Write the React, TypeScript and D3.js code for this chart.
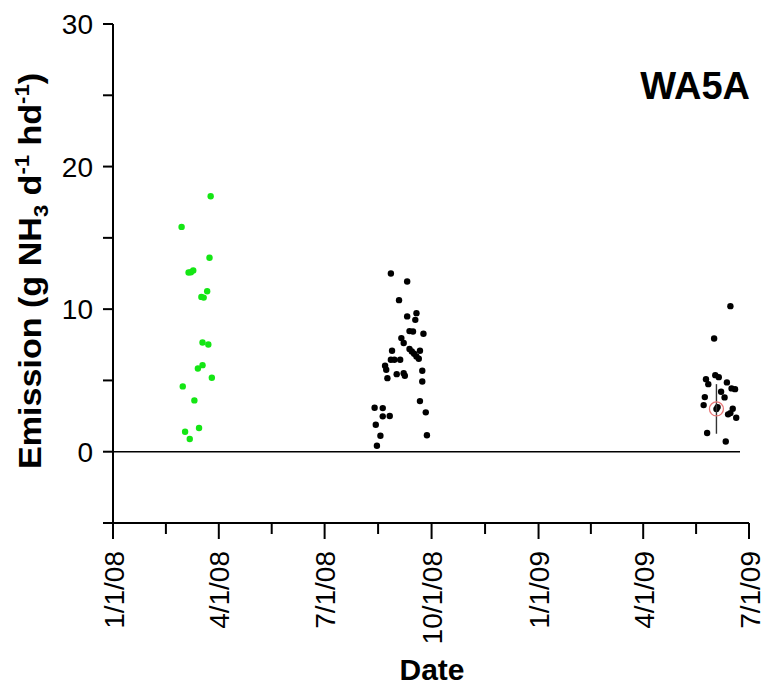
import React from "react";
import * as d3 from "d3";

// Daily NH3 emission per head, three measurement campaigns
const springDates = [
  "2008-03-25", "2008-02-29", "2008-03-24", "2008-03-06", "2008-03-08", "2008-03-10",
  "2008-03-22", "2008-03-17", "2008-03-19", "2008-03-18", "2008-03-23", "2008-03-14",
  "2008-03-18", "2008-03-26", "2008-03-01", "2008-03-11", "2008-03-15", "2008-03-03",
  "2008-03-07",
];
const springValues = [
  17.92, 15.77, 13.6, 12.57, 12.59, 12.71, 11.26, 10.86, 10.81, 7.66, 7.52, 5.84,
  6.07, 5.19, 4.58, 3.6, 1.66, 1.4, 0.89,
];

const fallDates = [
  "2008-08-27", "2008-09-10", "2008-09-03", "2008-09-10", "2008-09-17", "2008-09-18",
  "2008-09-12", "2008-09-15", "2008-09-24", "2008-09-05", "2008-09-07", "2008-09-12",
  "2008-09-14", "2008-09-16", "2008-09-18", "2008-09-21", "2008-08-28", "2008-08-27",
  "2008-08-30", "2008-09-04", "2008-09-20", "2008-08-22", "2008-08-23", "2008-08-24",
  "2008-09-01", "2008-09-07", "2008-09-08", "2008-09-23", "2008-09-23", "2008-09-21",
  "2008-09-26", "2008-09-27", "2008-08-13", "2008-08-20", "2008-08-20", "2008-08-26",
  "2008-08-14", "2008-08-18", "2008-08-15",
];
const fallValues = [
  12.5, 11.94, 10.63, 9.49, 9.25, 9.72, 8.46, 8.43, 8.27, 7.97, 7.62, 7.2,
  7.03, 6.87, 6.68, 7.08, 7.08, 6.45, 6.45, 6.45, 6.52, 6.03, 5.75, 5.16,
  5.44, 5.51, 5.33, 5.68, 4.93, 3.55, 2.76, 1.15, 3.08, 3.06, 2.48, 2.5,
  1.89, 1.12, 0.42,
];

const summerDates = [
  "2009-06-15", "2009-06-01", "2009-06-02", "2009-06-05", "2009-05-25", "2009-05-27",
  "2009-06-12", "2009-06-16", "2009-06-19", "2009-06-07", "2009-05-24", "2009-06-10",
  "2009-05-23", "2009-06-04", "2009-06-03", "2009-06-17", "2009-06-15", "2009-06-13",
  "2009-06-20", "2009-05-26", "2009-06-11",
];
const summerValues = [
  10.21, 7.94, 5.37, 5.23, 5.09, 4.74, 4.86, 4.44, 4.39, 4.21, 3.83, 3.81,
  3.27, 3.13, 2.99, 3.01, 2.71, 2.62, 2.38, 1.31, 0.72,
];

// Campaign mean with its spread
const meanDate = "2009-06-03";
const meanValue = 3.0;
const meanSpread = 1.74;

const xTickDates = ["2008-01-01", "2008-04-01", "2008-07-01", "2008-10-01", "2009-01-01", "2009-04-01", "2009-07-01"];
const xTickLabels = ["1/1/08", "4/1/08", "7/1/08", "10/1/08", "1/1/09", "4/1/09", "7/1/09"];
const yMajorTicks = [0, 10, 20, 30];
const yMinorTicks = [-5, 5, 15, 25];

const parse = d3.utcParse("%Y-%m-%d");

export default function App() {
  const width = 763;
  const height = 686;
  const font = "'Liberation Sans', Arial, sans-serif";

  const x = d3
    .scaleUtc()
    .domain([parse(xTickDates[0])!, parse(xTickDates[xTickDates.length - 1])!])
    .range([113, 749]);
  const y = d3.scaleLinear().domain([-5, 30]).range([523, 24]);

  const majorDates = xTickDates.map((d) => parse(d)!);
  const minorDates = majorDates.slice(1).map((d, i) => new Date((d.getTime() + majorDates[i].getTime()) / 2));

  const axisY = y(-5);
  const axisX = x(majorDates[0]);

  const dots = (dates: string[], values: number[], color: string, key: string) =>
    dates.map((d, i) => (
      <circle key={key + i} cx={x(parse(d)!)} cy={y(values[i])} r={3.2} fill={color} />
    ));

  const mx = x(parse(meanDate)!);

  return (
    <svg width={width} height={height} style={{ position: "absolute", left: 0, top: 0, background: "#fff" }}>
      {/* zero reference line */}
      <line x1={axisX} x2={740} y1={y(0)} y2={y(0)} stroke="#000" strokeWidth={1.6} />

      {/* y axis */}
      <line x1={axisX} x2={axisX} y1={y(30)} y2={axisY + 16} stroke="#000" strokeWidth={2} />
      {[...yMajorTicks, ...yMinorTicks].map((t) => (
        <line key={"yt" + t} x1={axisX - 10} x2={axisX} y1={y(t)} y2={y(t)} stroke="#000" strokeWidth={2} />
      ))}
      {yMajorTicks.map((t) => (
        <text key={"yl" + t} x={axisX - 20} y={y(t)} dy="0.36em" textAnchor="end" fontFamily={font} fontSize={28}>
          {t}
        </text>
      ))}

      {/* x axis */}
      <line x1={axisX - 10} x2={x(majorDates[majorDates.length - 1])} y1={axisY} y2={axisY} stroke="#000" strokeWidth={2} />
      {majorDates.map((d, i) => (
        <line key={"xt" + i} x1={x(d)} x2={x(d)} y1={axisY} y2={axisY + 16} stroke="#000" strokeWidth={2} />
      ))}
      {minorDates.map((d, i) => (
        <line key={"xm" + i} x1={x(d)} x2={x(d)} y1={axisY} y2={axisY + 11} stroke="#000" strokeWidth={2} />
      ))}
      {majorDates.map((d, i) => (
        <text
          key={"xl" + i}
          transform={`translate(${x(d)},${axisY + 28}) rotate(-90)`}
          dy="0.38em"
          textAnchor="end"
          fontFamily={font}
          fontSize={28}
        >
          {xTickLabels[i]}
        </text>
      ))}

      {/* axis titles */}
      <text x={432} y={680} textAnchor="middle" fontFamily={font} fontSize={30} fontWeight="bold">
        Date
      </text>
      <text
        transform="translate(41,271) rotate(-90) scale(1.1,1)"
        textAnchor="middle"
        fontFamily={font}
        fontSize={31}
        fontWeight="bold"
      >
        Emission (g NH
        <tspan fontSize={20} dy={7}>3</tspan>
        <tspan dy={-7}> d</tspan>
        <tspan fontSize={20} dy={-12}>-1</tspan>
        <tspan dy={12}> hd</tspan>
        <tspan fontSize={20} dy={-12}>-1</tspan>
        <tspan dy={12}>)</tspan>
      </text>

      <text x={750} y={99} textAnchor="end" fontFamily={font} fontSize={38} fontWeight="bold">
        WA5A
      </text>

      {/* measurements */}
      {dots(springDates, springValues, "#14e614", "s")}
      {dots(fallDates, fallValues, "#000", "f")}
      {dots(summerDates, summerValues, "#000", "u")}

      {/* mean and spread */}
      <line x1={mx} x2={mx} y1={y(meanValue + meanSpread)} y2={y(meanValue - meanSpread)} stroke="#333" strokeWidth={1.4} />
      <circle cx={mx} cy={y(meanValue)} r={7} fill="none" stroke="#e87878" strokeWidth={1.3} />
    </svg>
  );
}
